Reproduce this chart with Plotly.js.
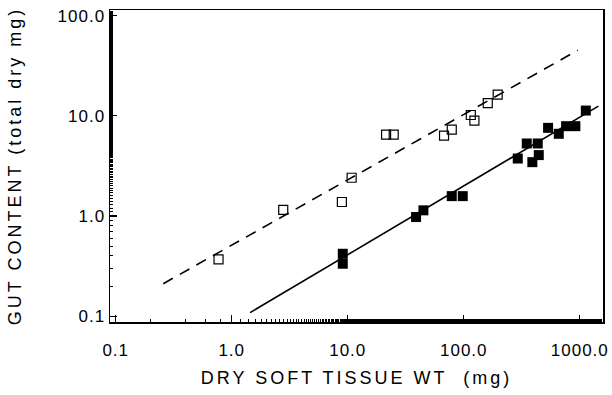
<!DOCTYPE html>
<html>
<head>
<meta charset="utf-8">
<script src="https://cdn.plot.ly/plotly-3.0.1.min.js"></script>
<style>
html,body{margin:0;padding:0;background:#fff;}
#chart{width:612px;height:395px;}
#chart .xtitle, #chart .ytitle {letter-spacing: 3px;}
#chart .xtick text, #chart .ytick text {letter-spacing: 1px;}
</style>
</head>
<body>
<div id="chart"></div>
<script>
// Open squares (upper series)
const openX = [0.77, 2.78, 8.9, 10.8, 21.4, 24.9, 67.6, 78.8, 115, 123.5, 161, 196];
const openY = [0.37, 1.15, 1.38, 2.41, 6.5, 6.5, 6.36, 7.3, 10.2, 8.98, 13.4, 16.3];
// Filled squares (lower series)
const filledX = [9.06, 9.06, 38.8, 44.9, 78.8, 98, 292, 349, 390, 434, 443, 533, 659, 762, 916, 1127];
const filledY = [0.42, 0.334, 0.977, 1.14, 1.58, 1.58, 3.75, 5.3, 3.45, 5.3, 4.06, 7.59, 6.62, 7.89, 7.89, 11.3];
// Regression line end points
const dashLineX = [0.257, 961];
const dashLineY = [0.211, 45.2];
const solidLineX = [1.44, 1446];
const solidLineY = [0.1086, 12.5];
// Tick labels
const xTickVals = [0.1, 1, 10, 100, 1000];
const xTickText = ['0.1', '1.0', '10.0', '100.0', '1000.0'];
const yTickVals = [0.1, 1, 10, 100];
const yTickText = ['0.1', '1.0', '10.0', '100.0'];

const font = {family: 'Liberation Sans, Arial, sans-serif', color: '#000'};

const traces = [
  {x: dashLineX, y: dashLineY, mode: 'lines', line: {color: '#000', width: 1.6, dash: '11px,8px'}, hoverinfo: 'skip'},
  {x: solidLineX, y: solidLineY, mode: 'lines', line: {color: '#000', width: 1.6}, hoverinfo: 'skip'},
  {x: openX, y: openY, mode: 'markers', marker: {symbol: 'square-open', size: 9, color: '#000', line: {width: 1.2, color: '#000'}}},
  {x: filledX, y: filledY, mode: 'markers', marker: {symbol: 'square', size: 10, color: '#000'}}
];

const axisCommon = {
  type: 'log', showgrid: false, zeroline: false, showline: true, linecolor: '#000', linewidth: 1.5,
  mirror: true, ticks: 'inside', ticklen: 7, tickwidth: 1.2, tickcolor: '#000',
  minor: {ticks: 'inside', ticklen: 3, tickwidth: 1, tickcolor: '#000', showgrid: false},
  tickfont: Object.assign({size: 17}, font)
};

const layout = {
  width: 612, height: 395,
  margin: {l: 110, r: 9, t: 10, b: 73},
  paper_bgcolor: '#fff', plot_bgcolor: '#fff',
  showlegend: false,
  xaxis: Object.assign({}, axisCommon, {
    range: [-1.049, 3.20], tickmode: 'array', tickvals: xTickVals, ticktext: xTickText,
    ticklabelstandoff: 12,
    title: {text: 'DRY SOFT TISSUE WT  (mg)', font: Object.assign({size: 18}, font), standoff: 12}
  }),
  yaxis: Object.assign({}, axisCommon, {
    range: [-1.058, 2.057], tickmode: 'array', tickvals: yTickVals, ticktext: yTickText,
    ticklabelstandoff: 0,
    title: {text: 'GUT CONTENT (total dry mg)', font: Object.assign({size: 18}, font), standoff: 36}
  })
};

Plotly.newPlot('chart', traces, layout, {staticPlot: true, displayModeBar: false});
</script>
</body>
</html>
